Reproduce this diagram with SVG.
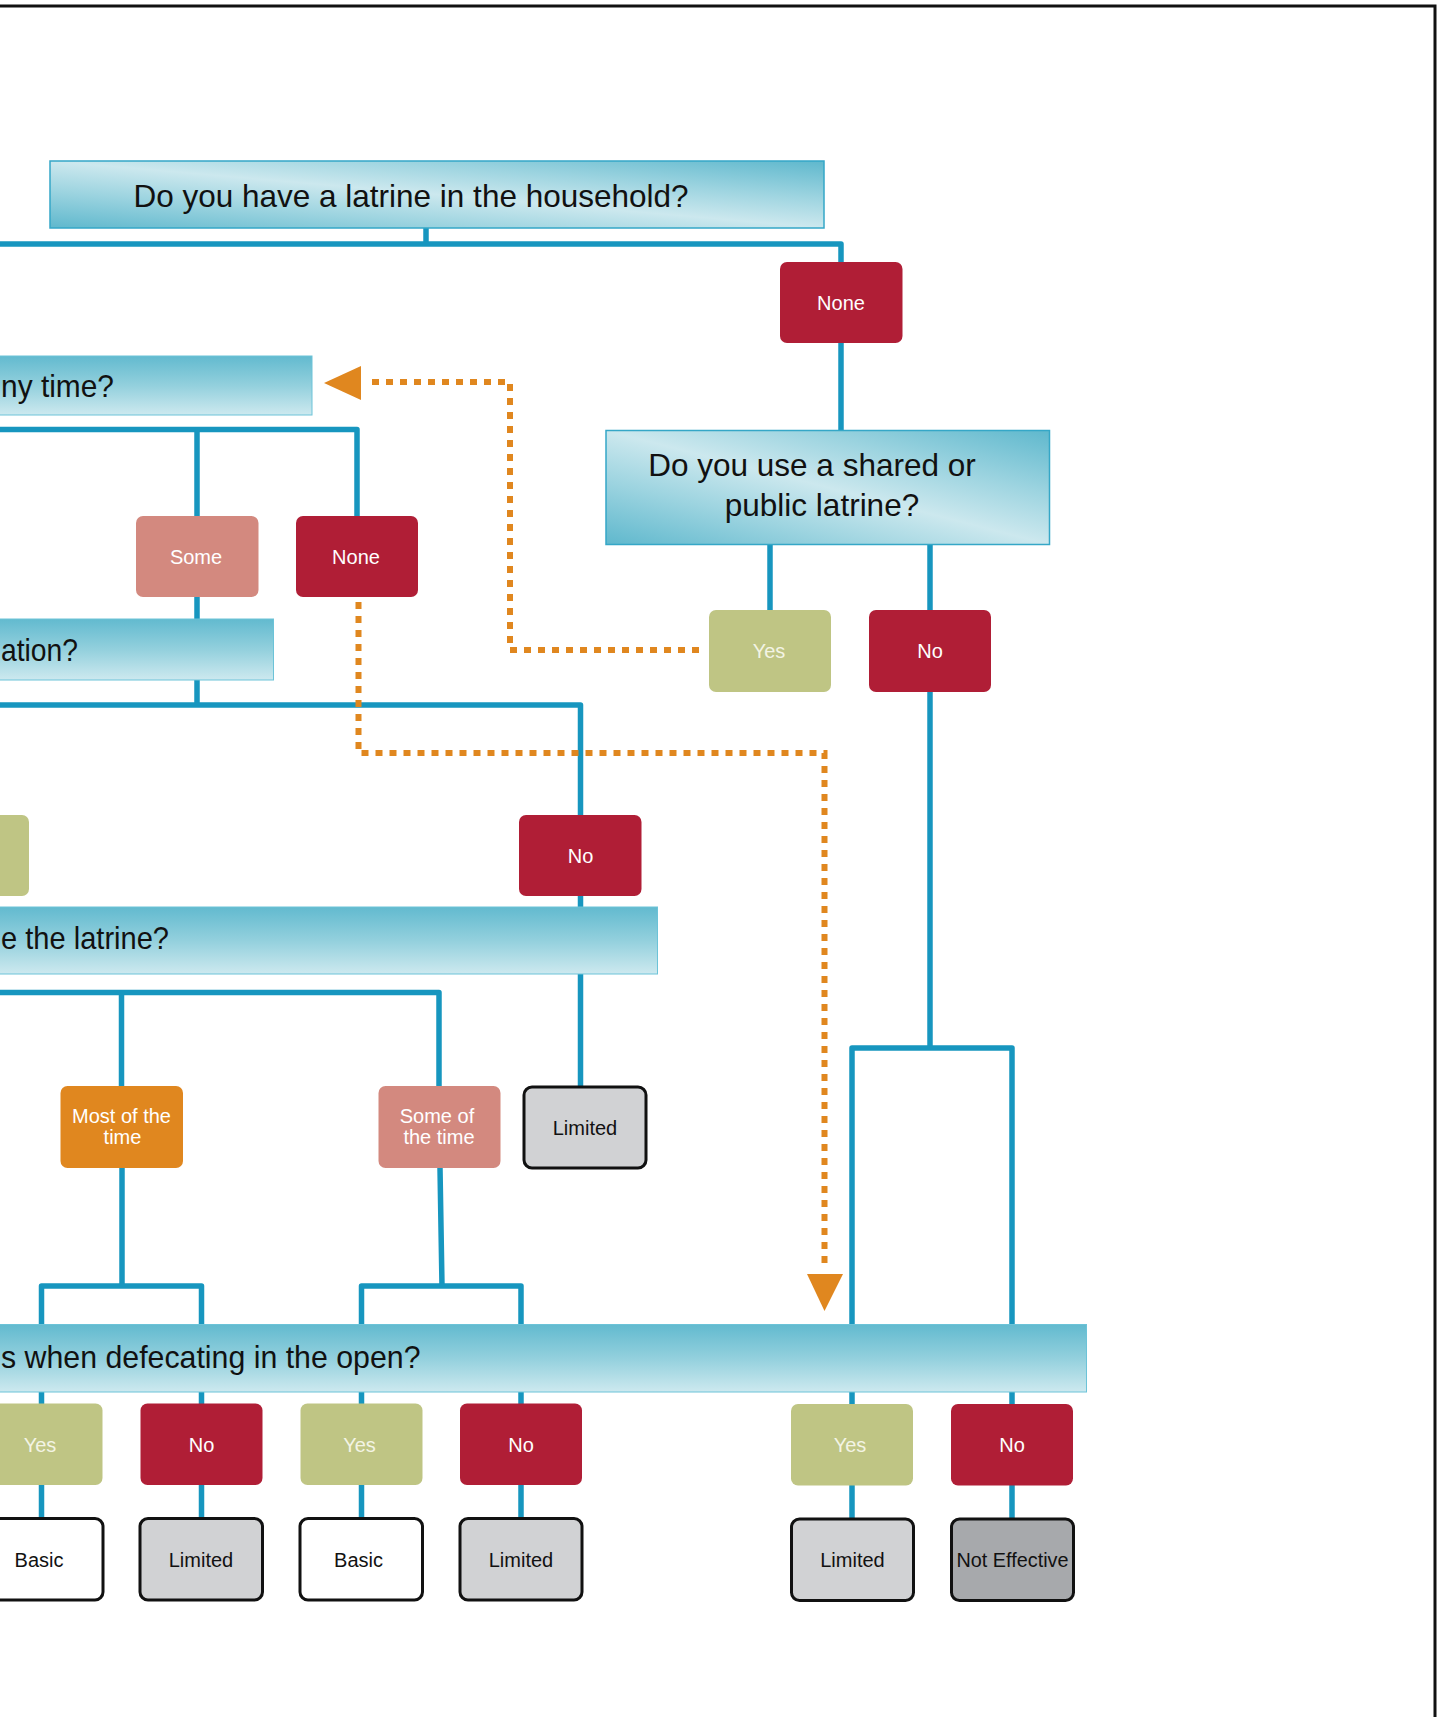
<svg xmlns="http://www.w3.org/2000/svg" width="1437" height="1717" viewBox="0 0 1437 1717">
<defs>
<linearGradient id="gDiag" x1="0" y1="1" x2="1" y2="0">
<stop offset="0" stop-color="#5fb8cd"/>
<stop offset="0.28" stop-color="#9dd4e0"/>
<stop offset="0.5" stop-color="#cce8ee"/>
<stop offset="0.72" stop-color="#9dd4e0"/>
<stop offset="1" stop-color="#5fb8cd"/>
</linearGradient>
<linearGradient id="gVert" x1="0" y1="0" x2="0" y2="1">
<stop offset="0" stop-color="#62bacf"/>
<stop offset="0.5" stop-color="#93d0dd"/>
<stop offset="1" stop-color="#cde9ef"/>
</linearGradient>
<style>
.q1{fill:url(#gDiag);stroke:#35a7c7;stroke-width:1.5}
.q2{fill:url(#gVert);stroke:#6cc3d8;stroke-width:1}
.qt{font-family:"Liberation Sans",Arial,sans-serif;font-size:31.5px;fill:#111}
.red{fill:#b01e36}
.grn{fill:#bfc584}
.sal{fill:#d3897f}
.org{fill:#e0871f}
.res{stroke:#111;stroke-width:3}
.lg{fill:#d1d2d4}
.wh{fill:#ffffff}
.dg{fill:#a7a9ac}
.lt{font-family:"Liberation Sans",Arial,sans-serif;font-size:20px;fill:#ffffff;text-anchor:middle}
.ly{font-family:"Liberation Sans",Arial,sans-serif;font-size:20px;fill:#f3f4e4;text-anchor:middle}
.lb{font-family:"Liberation Sans",Arial,sans-serif;font-size:20px;fill:#111;text-anchor:middle}
.tl{fill:none;stroke:#1796bf;stroke-width:5.5;stroke-linejoin:round}
.dot{fill:none;stroke:#e0871f;stroke-width:6;stroke-dasharray:7 7}
.ah{fill:#e0871f}
</style>
</defs>
<rect x="0" y="0" width="1437" height="1717" fill="#ffffff"/>
<path d="M0,6 H1435 V1717" fill="none" stroke="#111" stroke-width="3"/>

<g id="connectors">
<path class="tl" d="M426,228 V244"/>
<path class="tl" d="M0,244 H841 V262"/>
<path class="tl" d="M841,343 V430"/>
<path class="tl" d="M770,544 V610"/>
<path class="tl" d="M930,544 V610"/>
<path class="tl" d="M930,692 V1048"/>
<path class="tl" d="M852,1325 V1048 H1012 V1325"/>
<path class="tl" d="M852,1392 V1404 M1012,1392 V1404"/>
<path class="tl" d="M852,1485 V1518 M1012,1485 V1518"/>
<path class="tl" d="M0,429.5 H357 V516 M197,429.5 V516"/>
<path class="tl" d="M197,597 V619 M197,680 V705"/>
<path class="tl" d="M0,705 H580.5 V815"/>
<path class="tl" d="M580.5,896 V907 M580.5,974 V1086"/>
<path class="tl" d="M0,992.5 H439 V1086 M121.5,992.5 V1086"/>
<path class="tl" d="M122,1168 V1286 M41.5,1324 V1286 H201.5 V1324"/>
<path class="tl" d="M440,1168 L442,1286 M361.5,1324 V1286 H521 V1324"/>
<path class="tl" d="M41.5,1392 V1404 M201.5,1392 V1404 M361.5,1392 V1404 M521,1392 V1404"/>
<path class="tl" d="M41.5,1485 V1518 M201.5,1485 V1518 M361.5,1485 V1518 M521,1485 V1518"/>
<path class="dot" d="M699,650 H510 V382 H366"/>
<polygon class="ah" points="324,383 361,366 361,400"/>
<path class="dot" d="M358.5,602 V753 H824.5 V1268"/>
<polygon class="ah" points="807,1274 843,1274 824.5,1311"/>
</g>

<g id="q-household">
<rect class="q1" x="50" y="161" width="774" height="67"/>
<text class="qt" x="411" y="206.5" text-anchor="middle">Do you have a latrine in the household?</text>
</g>
<g id="none-top">
<rect class="red" x="780" y="262" width="122.5" height="81" rx="7"/>
<text class="lt" x="841" y="310">None</text>
</g>
<g id="q-shared">
<rect class="q1" x="606" y="430.5" width="443.5" height="114"/>
<text class="qt" x="812" y="476" text-anchor="middle" font-size="30">Do you use a shared or</text>
<text class="qt" x="822" y="516" text-anchor="middle" font-size="30">public latrine?</text>
</g>
<g id="yes-shared">
<rect class="grn" x="709" y="610" width="122" height="82" rx="7"/>
<text class="ly" x="769" y="658">Yes</text>
</g>
<g id="no-shared">
<rect class="red" x="869" y="610" width="122" height="82" rx="7"/>
<text class="lt" x="930" y="658">No</text>
</g>
<g id="q-anytime">
<rect class="q2" x="-10" y="356" width="322" height="59"/>
<text class="qt" x="1" y="396.5" textLength="113" lengthAdjust="spacingAndGlyphs">ny time?</text>
</g>
<g id="some">
<rect class="sal" x="136" y="516" width="122.5" height="81" rx="7"/>
<text class="lt" x="196" y="564">Some</text>
</g>
<g id="none-mid">
<rect class="red" x="296" y="516" width="122" height="81" rx="7"/>
<text class="lt" x="356" y="564">None</text>
</g>
<g id="q-ation">
<rect class="q2" x="-10" y="619" width="283.5" height="61"/>
<text class="qt" x="1" y="660.5" textLength="77" lengthAdjust="spacingAndGlyphs">ation?</text>
</g>
<g id="yes-left">
<rect class="grn" x="-100" y="815" width="129" height="81" rx="7"/>
</g>
<g id="no-mid">
<rect class="red" x="519" y="815" width="122.5" height="81" rx="7"/>
<text class="lt" x="580.5" y="862.5">No</text>
</g>
<g id="q-latrine">
<rect class="q2" x="-10" y="907" width="667.5" height="67"/>
<text class="qt" x="1" y="949" textLength="168" lengthAdjust="spacingAndGlyphs">e the latrine?</text>
</g>
<g id="most">
<rect class="org" x="60.5" y="1086" width="122.5" height="82" rx="7"/>
<text class="lt" x="121.5" y="1122.5">Most of the</text>
<text class="lt" x="122.5" y="1144">time</text>
</g>
<g id="someof">
<rect class="sal" x="378.5" y="1086" width="122" height="82" rx="7"/>
<text class="lt" x="437" y="1122.5">Some of</text>
<text class="lt" x="439" y="1144">the time</text>
</g>
<g id="limited-a">
<rect class="res lg" x="524" y="1087" width="122" height="81" rx="8"/>
<text class="lb" x="585" y="1135">Limited</text>
</g>
<g id="q-open">
<rect class="q2" x="-10" y="1324.5" width="1096.5" height="67.5"/>
<text class="qt" x="1" y="1368" textLength="419.5" lengthAdjust="spacingAndGlyphs">s when defecating in the open?</text>
</g>
<g id="yes-b1">
<rect class="grn" x="-19.5" y="1403.5" width="122" height="81.5" rx="7"/>
<text class="ly" x="40" y="1451.5">Yes</text>
</g>
<g id="no-b1">
<rect class="red" x="140.5" y="1403.5" width="122" height="81.5" rx="7"/>
<text class="lt" x="201.5" y="1451.5">No</text>
</g>
<g id="yes-b2">
<rect class="grn" x="300.5" y="1403.5" width="122" height="81.5" rx="7"/>
<text class="ly" x="359.5" y="1451.5">Yes</text>
</g>
<g id="no-b2">
<rect class="red" x="460" y="1403.5" width="122" height="81.5" rx="7"/>
<text class="lt" x="521" y="1451.5">No</text>
</g>
<g id="yes-b3">
<rect class="grn" x="791" y="1404" width="122" height="81.5" rx="7"/>
<text class="ly" x="850" y="1452">Yes</text>
</g>
<g id="no-b3">
<rect class="red" x="951" y="1404" width="122" height="81.5" rx="7"/>
<text class="lt" x="1012" y="1452">No</text>
</g>
<g id="basic-1">
<rect class="res wh" x="-20" y="1518.5" width="123" height="81.5" rx="8"/>
<text class="lb" x="39" y="1566.5">Basic</text>
</g>
<g id="limited-1">
<rect class="res lg" x="140" y="1518.5" width="122.5" height="81.5" rx="8"/>
<text class="lb" x="201" y="1566.5">Limited</text>
</g>
<g id="basic-2">
<rect class="res wh" x="300" y="1518.5" width="122.5" height="81.5" rx="8"/>
<text class="lb" x="358.5" y="1566.5">Basic</text>
</g>
<g id="limited-2">
<rect class="res lg" x="460" y="1518.5" width="122" height="81.5" rx="8"/>
<text class="lb" x="521" y="1566.5">Limited</text>
</g>
<g id="limited-3">
<rect class="res lg" x="791.5" y="1519" width="122" height="81.5" rx="8"/>
<text class="lb" x="852.5" y="1567">Limited</text>
</g>
<g id="not-effective">
<rect class="res dg" x="951.5" y="1519" width="122" height="81.5" rx="8"/>
<text class="lb" x="1012.5" y="1567" textLength="112" lengthAdjust="spacingAndGlyphs">Not Effective</text>
</g>
</svg>
